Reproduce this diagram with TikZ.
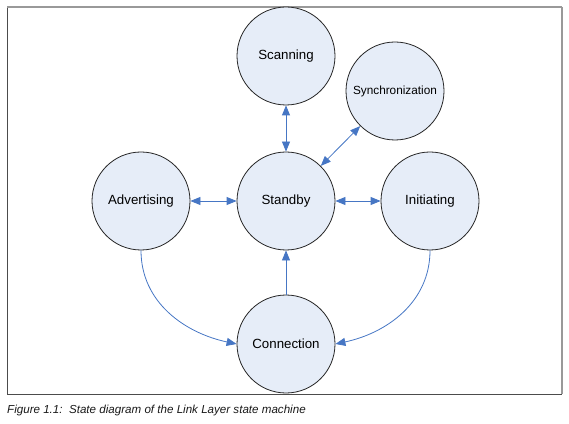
\documentclass[tikz,border=0pt]{standalone}
\usepackage{fontspec}
\setmainfont{Liberation Sans}
\usetikzlibrary{arrows.meta}

\definecolor{statefill}{RGB}{230,237,248}
\definecolor{linkblue}{RGB}{70,118,196}

\begin{document}
\begin{tikzpicture}[
    x=1pt, y=1pt,
    state/.style={circle, draw=black!85, line width=0.8pt, fill=statefill,
        minimum size=98pt, inner sep=0pt, font=\fontsize{13.3}{16}\selectfont},
    link/.style={draw=linkblue, line width=0.8pt,
        -{Triangle[length=10pt, width=8pt]}},
    twoway/.style={link, {Triangle[length=10pt, width=8pt]}-{Triangle[length=10pt, width=8pt]}}
]

    \useasboundingbox (0,0) rectangle (569,423);

    % Frame
    \draw[black!70, line width=1pt] (7,29) -- (562,29);
    \draw[black!70, line width=1pt] (7,29) -- (7,416);
    \draw[black!40, line width=1.5pt] (7,416) -- (562,416);
    \draw[black!40, line width=1.5pt] (562,416) -- (562,29);

    % Define States
    \node[state] (scanning) at (286,367) {Scanning};
    \node[state, font=\fontsize{11.8}{14}\selectfont] (sync) at (395,332) {Synchronization};
    \node[state] (standby) at (286,222) {Standby};
    \node[state] (advertising) at (141,222) {Advertising};
    \node[state] (initiating) at (430,222) {Initiating};
    \node[state] (connection) at (286,79) {Connection};

    % Draw Transitions
    \draw[twoway] (scanning) -- (standby);
    \draw[twoway] (sync) -- (standby);
    \draw[twoway] (advertising) -- (standby);
    \draw[twoway] (standby) -- (initiating);
    \draw[link] (connection) -- (standby);

    % Curved transitions into Connection
    \draw[link] (advertising.south) to[out=-90, in=168] (connection.west);
    \draw[link] (initiating.south) to[out=-90, in=12] (connection.east);

    % Caption
    \node[anchor=base west, inner sep=0pt, text=black!90,
        font=\fontsize{11.6}{14}\selectfont\itshape] (caption) at (7,10)
        {Figure 1.1:\ \ State diagram of the Link Layer state machine};

\end{tikzpicture}
\end{document}
